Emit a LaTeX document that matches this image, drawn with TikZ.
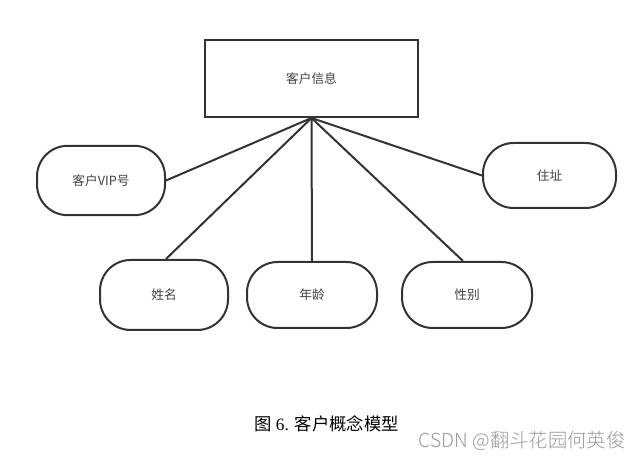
\documentclass[tikz,border=0pt]{standalone}
\usepackage{fontspec}
\setmainfont{Liberation Serif}
\newfontfamily\cjk{Noto Sans CJK SC}
\newfontfamily\cjkl{Noto Sans CJK SC Light}
\begin{document}
\begin{tikzpicture}[x=0.75pt,y=-0.75pt,
  edge/.style={draw=black!80, line width=1.5pt},
  ent/.style={draw=black!80, line width=1.5pt, minimum width=160.5pt-0.75pt, minimum height=57.75pt, inner sep=0pt, font=\cjk\fontsize{9.5pt}{11pt}\selectfont, text=black!75},
  attr/.style={draw=black!80, line width=1.5pt, rounded corners=23pt, inner sep=0pt, font=\cjk\fontsize{9.5pt}{11pt}\selectfont, text=black!75}]
\useasboundingbox (0,0) rectangle (643,459);
\node[ent] (main) at (311.5,78.5) {客户信息};
\node[attr, minimum width=96pt, minimum height=52pt] (vip) at (101,180.5) {客户VIP号};
\node[attr, minimum width=99.75pt, minimum height=48.75pt] (addr) at (549.5,175.5) {住址};
\node[attr, minimum width=96pt, minimum height=52.5pt] (name) at (164,295) {姓名};
\node[attr, minimum width=97.5pt, minimum height=49.5pt] (age) at (312,295) {年龄};
\node[attr, minimum width=97.5pt, minimum height=49.5pt] (sex) at (467,295) {性别};
\coordinate (hub) at (311.5,118);
\draw[edge] (hub) -- (vip.east);
\draw[edge] (hub) -- (addr.west);
\draw[edge] (hub) -- ([xshift=1.5pt]name.north);
\draw[edge] (hub) -- (age.north);
\draw[edge] (hub) -- ([xshift=-3pt]sex.north);
\node[font=\fontsize{13pt}{15pt}\selectfont, text=black, inner sep=0pt] (cap) at (326.5,424) {{\cjk 图} 6. {\cjk 客户概念模型}};
\node[font=\cjkl\fontsize{14.5pt}{16pt}\selectfont, text=black!40, inner sep=0pt] (wm) at (522,441) {CSDN @翻斗花园何英俊};
\end{tikzpicture}
\end{document}
